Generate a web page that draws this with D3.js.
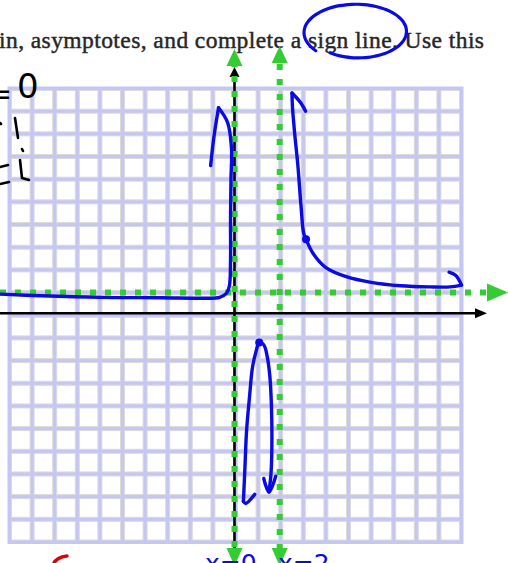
<!DOCTYPE html>
<html>
<head>
<meta charset="utf-8">
<script src="https://cdn.jsdelivr.net/npm/d3@7"></script>
<style>
  html, body { margin: 0; padding: 0; background: #fff; overflow: hidden; }
  svg { display: block; }
</style>
</head>
<body>
<script>
// Grid extent in graph units
const xTicks = d3.range(-10, 11);
const yTicks = d3.range(-10, 11);

// Asymptotes
const verticalAsymptotes = [0, 2];
const horizontalAsymptote = 1;

// Sketched branches of the graph, in graph units [x, y]
const leftBranch = [
  [-10.4, 0.93], [-8.6, 0.86], [-6.0, 0.79], [-3.3, 0.77], [-1.3, 0.75],
  [-0.7, 0.79], [-0.40, 0.97], [-0.27, 1.3], [-0.22, 2.4], [-0.22, 4.2],
  [-0.20, 6.0], [-0.18, 7.4], [-0.35, 8.5], [-0.75, 9.15]
];
const leftBranchHead = [[-1.1, 6.6], [-0.95, 7.9], [-0.75, 9.15]];

const middleBranch = [
  [0.35, -8.2], [0.41, -6.9], [0.49, -5.1], [0.62, -3.6], [0.75, -2.3],
  [0.92, -1.55], [1.05, -1.2], [1.25, -1.3], [1.40, -1.8], [1.52, -2.7],
  [1.59, -4.0], [1.61, -5.7], [1.57, -7.0], [1.48, -7.8]
];
const middleLeftHead = [[0.35, -8.2], [0.45, -8.3], [0.85, -7.9]];
const middleRightHead = [[1.25, -7.2], [1.48, -7.8], [1.78, -7.1]];

const rightBranch = [
  [2.50, 9.8], [2.52, 9.2], [2.62, 8.0], [2.76, 6.6], [2.90, 4.8],
  [3.02, 3.6], [3.12, 3.35], [3.45, 2.7], [4.0, 2.1], [4.9, 1.7],
  [6.0, 1.45], [7.3, 1.3], [8.6, 1.25], [9.5, 1.25], [10.0, 1.33]
];
const rightTopHead = [[2.50, 9.8], [2.9, 9.35], [3.1, 9.0]];
const rightEndHead = [[9.45, 1.9], [9.75, 1.75], [10.0, 1.33]];
const branchDots = [[1.05, -1.2], [3.12, 3.35]];

// Page texts
const headingText = "in, asymptotes, and complete a sign line. Use this";
const asymptoteLabels = ["x=0", "x=2"];

const W = 508, H = 563;
const svg = d3.select("body").append("svg")
  .attr("width", W).attr("height", H);

const x = d3.scaleLinear().domain([-10, 10]).range([9.5, 461.5]);
const y = d3.scaleLinear().domain([10, -10]).range([88.5, 542]);

const green = "#33cc33";
const blue = "#0a0ae6";

// Heading line of the worksheet
svg.append("text")
  .attr("x", -1).attr("y", 48)
  .attr("font-family", "Liberation Serif, serif")
  .attr("font-size", 23.5)
  .attr("textLength", 485).attr("lengthAdjust", "spacing")
  .attr("fill", "#262626")
  .attr("stroke", "#262626").attr("stroke-width", 0.45)
  .text(headingText);

// Graph paper: lavender rules with white cells
const rule = 4;
const paper = svg.append("g");
paper.append("rect")
  .attr("x", x(-10) - rule / 2).attr("y", y(10) - rule / 2)
  .attr("width", x(10) - x(-10) + rule).attr("height", y(-10) - y(10) + rule)
  .attr("fill", "#c6c6f3");
const cells = [];
xTicks.slice(0, -1).forEach(i => yTicks.slice(1).forEach(j => cells.push([i, j])));
paper.selectAll("rect.cell").data(cells).join("rect")
  .attr("class", "cell")
  .attr("x", d => x(d[0]) + rule / 2)
  .attr("y", d => y(d[1]) + rule / 2)
  .attr("width", d => x(d[0] + 1) - x(d[0]) - rule)
  .attr("height", d => y(d[1] - 1) - y(d[1]) - rule)
  .attr("fill", "#fff")
  .attr("stroke", "#dadada").attr("stroke-width", 1);

// Arrowhead helper (tip position, direction angle in degrees)
function tri(g, tx, ty, angle, len, half, fill) {
  const pts = [[0, 0], [-len, -half], [-len, half]];
  g.append("path")
    .attr("d", "M" + pts.map(p => p.join(",")).join("L") + "Z")
    .attr("transform", `translate(${tx},${ty}) rotate(${angle})`)
    .attr("fill", fill);
}

// Coordinate axes
const axes = svg.append("g");
axes.append("line")
  .attr("x1", 0).attr("x2", 478)
  .attr("y1", y(0) - 2).attr("y2", y(0) - 2)
  .attr("stroke", "#000").attr("stroke-width", 2.6);
tri(axes, 487, y(0) - 2, 0, 12, 5, "#000");
axes.append("line")
  .attr("x1", x(0) - 1).attr("x2", x(0) - 1)
  .attr("y1", 76).attr("y2", H)
  .attr("stroke", "#000").attr("stroke-width", 2.6);
tri(axes, x(0) - 1, 67, -90, 10, 5, "#000");

// Asymptotes as dotted green lines
const asym = svg.append("g");
verticalAsymptotes.forEach(v => {
  const top = v === 0 ? 66 : 63;
  asym.append("line")
    .attr("x1", x(v) - 1).attr("x2", x(v) - 1)
    .attr("y1", top).attr("y2", 548)
    .attr("stroke", green).attr("stroke-width", 6)
    .attr("stroke-dasharray", "6 9")
    .attr("stroke-dashoffset", v === 0 ? -10 : -1);
  tri(asym, x(v) - 1, v === 0 ? 49 : 46, -90, 17, 8, green);
  tri(asym, x(v) - 1, 566, 90, 18, 8, green);
});
asym.append("line")
  .attr("x1", 0).attr("x2", 487)
  .attr("y1", y(horizontalAsymptote)).attr("y2", y(horizontalAsymptote))
  .attr("stroke", green).attr("stroke-width", 6)
  .attr("stroke-dasharray", "6 9");
tri(asym, 508, y(horizontalAsymptote), 0, 21, 9, green);

// Sketched graph
const line = d3.line().x(d => x(d[0])).y(d => y(d[1])).curve(d3.curveCatmullRom.alpha(0.5));
const ink = svg.append("g")
  .attr("fill", "none").attr("stroke", blue)
  .attr("stroke-width", 3.4).attr("stroke-linecap", "round").attr("stroke-linejoin", "round");
[leftBranch, leftBranchHead, middleBranch, middleLeftHead, middleRightHead,
 rightBranch, rightTopHead, rightEndHead].forEach(pts => {
  ink.append("path").attr("d", line(pts));
});
svg.selectAll("circle.dot").data(branchDots).join("circle")
  .attr("class", "dot")
  .attr("cx", d => x(d[0])).attr("cy", d => y(d[1]))
  .attr("r", 4).attr("fill", blue);

// Loop drawn around "sign line"
const loopPts = d3.range(0, 1.0001, 0.02).map(t => {
  const a = (140 + t * 345) * Math.PI / 180;
  const s = 1.12 - 0.14 * t;
  return [357 + 48 * s * Math.cos(a), 32 + 26 * s * Math.sin(a)];
});
svg.append("path")
  .attr("d", d3.line().curve(d3.curveCatmullRom)(loopPts))
  .attr("fill", "none").attr("stroke", blue).attr("stroke-width", 3.2)
  .attr("stroke-linecap", "round");

// Handwritten labels
const hand = "DejaVu Sans, sans-serif";
svg.selectAll("text.alabel").data(asymptoteLabels).join("text")
  .attr("class", "alabel")
  .attr("x", (d, i) => i === 0 ? 205 : 278)
  .attr("y", 572)
  .attr("font-family", hand).attr("font-size", 25)
  .attr("fill", blue)
  .text(d => d);

svg.append("text").attr("x", -13).attr("y", 104)
  .attr("font-family", hand).attr("font-size", 30).attr("fill", "#000").text("=");
svg.append("text").attr("x", 17).attr("y", 98)
  .attr("font-family", hand).attr("font-size", 34).attr("fill", "#000").text("0");

// Loose pen strokes at the left margin
const pen = svg.append("g").attr("fill", "none").attr("stroke", "#000")
  .attr("stroke-width", 2.6).attr("stroke-linecap", "round");
pen.append("path").attr("d", "M15,118 L18,138");
pen.append("path").attr("d", "M22,149 L23,151");
pen.append("path").attr("d", "M20,160 L22,178 L29,180");
pen.append("path").attr("d", "M0,123 L1,124");
pen.append("path").attr("d", "M0,167 L8,165");
pen.append("path").attr("d", "M0,184 L9,182");

// Red pen mark at the bottom
svg.append("path").attr("d", "M53,565 Q56,557 67,556")
  .attr("fill", "none").attr("stroke", "#e00000").attr("stroke-width", 3.4)
  .attr("stroke-linecap", "round");
</script>
</body>
</html>
